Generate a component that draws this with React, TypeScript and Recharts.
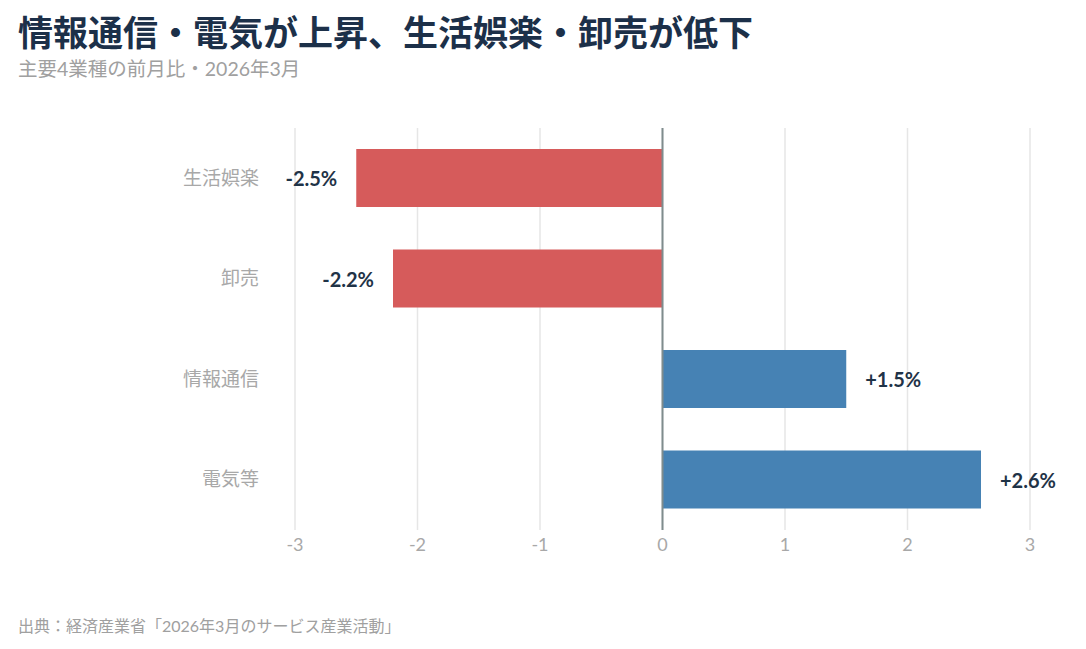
import React from "react";
import {
  BarChart,
  Bar,
  XAxis,
  YAxis,
  CartesianGrid,
  ReferenceLine,
  LabelList,
  Cell,
} from "recharts";

const categories = ["生活娯楽", "卸売", "情報通信", "電気等"];
const changes = [-2.5, -2.2, 1.5, 2.6];
const xTicks = [-3, -2, -1, 0, 1, 2, 3];

const TITLE = "情報通信・電気が上昇、生活娯楽・卸売が低下";
const SUBTITLE = "主要4業種の前月比・2026年3月";
const SOURCE = "出典：経済産業省「2026年3月のサービス産業活動」";

const NEG = "#d65b5b";
const POS = "#4682b4";
const FONT = "Lato, 'Noto Sans CJK JP', sans-serif";

const data = categories.map((name, i) => ({ name, value: changes[i] }));

const fmt = (v: number) => (v > 0 ? `+${v.toFixed(1)}%` : `${v.toFixed(1)}%`);

const ValueLabel = (props: any) => {
  const { x, y, width, height, value } = props;
  const left = Math.min(x, x + width);
  const right = Math.max(x, x + width);
  const cy = y + height / 2;
  const neg = value < 0;
  return (
    <text
      x={neg ? left - 19 : right + 19}
      y={cy}
      textAnchor={neg ? "end" : "start"}
      dominantBaseline="central"
      fill="#1f3347"
      fontSize={20}
      fontWeight={700}
      fontFamily={FONT}
    >
      {fmt(value)}
    </text>
  );
};

export default function App() {
  return (
    <div
      style={{
        position: "absolute",
        left: 0,
        top: 0,
        width: 1086,
        height: 649,
        background: "#fff",
        fontFamily: FONT,
      }}
    >
      <div
        style={{
          position: "absolute",
          left: 18,
          top: 12,
          fontSize: 35,
          lineHeight: "38px",
          fontWeight: 700,
          color: "#1c3049",
          fontFamily: "'Noto Sans CJK JP', sans-serif",
          whiteSpace: "nowrap",
        }}
      >
        {TITLE}
      </div>
      <div
        style={{
          position: "absolute",
          left: 18,
          top: 57,
          fontSize: 19.5,
          lineHeight: "24px",
          color: "#a0a0a0",
          whiteSpace: "nowrap",
        }}
      >
        {SUBTITLE}
      </div>
      <BarChart
        width={1086}
        height={649}
        data={data}
        layout="vertical"
        margin={{ top: 128, right: 56, bottom: 89, left: 0 }}
        barCategoryGap="21%"
        style={{ position: "absolute", left: 0, top: 0 }}
      >
        <CartesianGrid horizontal={false} stroke="#e6e6e6" strokeWidth={1.5} />
        <XAxis
          type="number"
          domain={[-3, 3]}
          ticks={xTicks}
          axisLine={false}
          tickLine={false}
          tickSize={0}
          tickMargin={8}
          height={30}
          tick={{ fill: "#a8a8a8", fontSize: 18, fontFamily: FONT }}
        />
        <YAxis
          type="category"
          dataKey="name"
          width={295}
          axisLine={false}
          tickLine={false}
          tickSize={0}
          tickMargin={36}
          tick={{ fill: "#a8a8a8", fontSize: 19, fontFamily: FONT }}
        />
        <ReferenceLine x={0} stroke="#7f8c8d" strokeWidth={2} />
        <Bar dataKey="value" isAnimationActive={false}>
          {data.map((d, i) => (
            <Cell key={i} fill={d.value < 0 ? NEG : POS} />
          ))}
          <LabelList dataKey="value" content={ValueLabel} />
        </Bar>
      </BarChart>
      <div
        style={{
          position: "absolute",
          left: 18,
          top: 616,
          fontSize: 16,
          lineHeight: "20px",
          color: "#a0a0a0",
          whiteSpace: "nowrap",
        }}
      >
        {SOURCE}
      </div>
    </div>
  );
}
